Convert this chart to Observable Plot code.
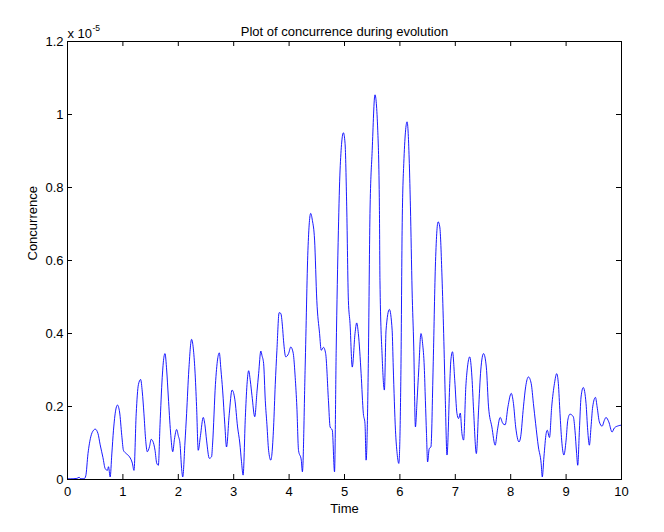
<!DOCTYPE html>
<html>
<head>
<meta charset="utf-8">
<script src="https://cdn.jsdelivr.net/npm/d3@7"></script>
<script src="https://cdn.jsdelivr.net/npm/@observablehq/plot@0.6"></script>
<style>
  html, body { margin: 0; padding: 0; background: #fff; }
  #chart { width: 664px; height: 532px; }
</style>
</head>
<body>
<div id="chart"></div>
<script>
const chartTitle = "Plot of concurrence during evolution";
const xLabel = "Time";
const yLabel = "Concurrence";
const yExponentBase = "x 10";
const yExponent = "-5";

const xTicks = [0, 1, 2, 3, 4, 5, 6, 7, 8, 9, 10];
const yTicks = [0, 0.2, 0.4, 0.6, 0.8, 1, 1.2];

// time values
const time = [
  0.00, 0.10, 0.17, 0.21, 0.24, 0.30, 0.33, 0.37, 0.42, 0.47, 0.50, 0.55, 0.59, 0.64, 0.68, 0.72, 0.74, 0.77,
  0.80, 0.83, 0.87, 0.90, 0.94, 0.98, 1.01, 1.06, 1.12, 1.17, 1.20, 1.24, 1.28, 1.32, 1.35, 1.38, 1.41, 1.44,
  1.48, 1.51, 1.54, 1.58, 1.61, 1.64, 1.67, 1.71, 1.74, 1.76, 1.79, 1.82, 1.86, 1.90, 1.93, 1.97, 2.00, 2.03,
  2.06, 2.08, 2.12, 2.15, 2.19, 2.24, 2.27, 2.30, 2.33, 2.36, 2.40, 2.45, 2.48, 2.51, 2.56, 2.60, 2.62, 2.67,
  2.71, 2.74, 2.77, 2.80, 2.84, 2.87, 2.92, 2.97, 3.02, 3.07, 3.11, 3.14, 3.17, 3.21, 3.24, 3.27, 3.30, 3.33,
  3.38, 3.42, 3.45, 3.49, 3.51, 3.54, 3.57, 3.60, 3.63, 3.67, 3.69, 3.72, 3.75, 3.78, 3.82, 3.85, 3.88, 3.90,
  3.94, 3.99, 4.03, 4.06, 4.08, 4.11, 4.14, 4.17, 4.22, 4.24, 4.29, 4.34, 4.39, 4.42, 4.46, 4.50, 4.55, 4.58,
  4.62, 4.66, 4.71, 4.74, 4.78, 4.82, 4.85, 4.89, 4.92, 4.98, 5.01, 5.04, 5.07, 5.10, 5.14, 5.19, 5.22, 5.25,
  5.30, 5.34, 5.37, 5.39, 5.43, 5.46, 5.50, 5.55, 5.60, 5.63, 5.64, 5.68, 5.72, 5.75, 5.81, 5.86, 5.88, 5.92,
  5.95, 5.98, 6.02, 6.04, 6.07, 6.13, 6.17, 6.19, 6.22, 6.25, 6.28, 6.31, 6.34, 6.38, 6.41, 6.44, 6.46, 6.48,
  6.50, 6.53, 6.56, 6.60, 6.64, 6.69, 6.72, 6.76, 6.79, 6.82, 6.85, 6.90, 6.92, 6.95, 6.99, 7.03, 7.06, 7.09,
  7.12, 7.15, 7.19, 7.22, 7.26, 7.30, 7.33, 7.38, 7.42, 7.46, 7.51, 7.56, 7.60, 7.66, 7.72, 7.76, 7.81, 7.86,
  7.90, 7.95, 8.01, 8.05, 8.09, 8.15, 8.18, 8.23, 8.27, 8.32, 8.37, 8.41, 8.45, 8.50, 8.55, 8.57, 8.60, 8.64,
  8.66, 8.70, 8.74, 8.79, 8.83, 8.86, 8.89, 8.92, 8.96, 9.00, 9.03, 9.07, 9.13, 9.16, 9.19, 9.21, 9.24, 9.27,
  9.31, 9.36, 9.39, 9.42, 9.45, 9.48, 9.53, 9.56, 9.60, 9.65, 9.69, 9.72, 9.77, 9.83, 9.87, 9.94, 10.00
];

// concurrence values, in units of 1e-5
const concurrence = [
  0.002, 0.002, 0.003, 0.006, 0.002, 0.002, 0.010, 0.071, 0.117, 0.135, 0.138, 0.126, 0.095, 0.060, 0.030, 0.025, 0.035, 0.007,
  0.070, 0.135, 0.190, 0.204, 0.185, 0.120, 0.080, 0.071, 0.062, 0.045, 0.025, 0.180, 0.260, 0.274, 0.240, 0.180, 0.110, 0.076,
  0.090, 0.110, 0.105, 0.080, 0.045, 0.039, 0.150, 0.280, 0.335, 0.345, 0.300, 0.226, 0.130, 0.076, 0.110, 0.137, 0.120, 0.099,
  0.030, 0.007, 0.100, 0.181, 0.300, 0.384, 0.360, 0.300, 0.200, 0.080, 0.120, 0.170, 0.150, 0.108, 0.058, 0.062, 0.100, 0.260,
  0.330, 0.347, 0.300, 0.245, 0.150, 0.089, 0.180, 0.245, 0.220, 0.144, 0.100, 0.050, 0.012, 0.170, 0.260, 0.298, 0.270, 0.230,
  0.172, 0.240, 0.290, 0.352, 0.340, 0.318, 0.217, 0.150, 0.080, 0.053, 0.070, 0.144, 0.260, 0.354, 0.457, 0.455, 0.420, 0.380,
  0.336, 0.345, 0.363, 0.355, 0.340, 0.280, 0.199, 0.080, 0.053, 0.021, 0.308, 0.628, 0.729, 0.710, 0.656, 0.491, 0.400, 0.354,
  0.362, 0.345, 0.217, 0.144, 0.135, 0.021, 0.354, 0.683, 0.848, 0.950, 0.921, 0.747, 0.491, 0.427, 0.308, 0.400, 0.429, 0.400,
  0.290, 0.181, 0.153, 0.053, 0.318, 0.729, 0.902, 1.054, 0.957, 0.747, 0.546, 0.336, 0.245, 0.409, 0.466, 0.409, 0.308, 0.135,
  0.071, 0.044, 0.318, 0.683, 0.866, 0.980, 0.866, 0.747, 0.519, 0.363, 0.144, 0.217, 0.300, 0.400, 0.372, 0.308, 0.217, 0.126,
  0.048, 0.085, 0.089, 0.308, 0.582, 0.706, 0.692, 0.555, 0.400, 0.217, 0.067, 0.263, 0.327, 0.350, 0.272, 0.181, 0.167, 0.182,
  0.126, 0.108, 0.254, 0.308, 0.336, 0.281, 0.190, 0.071, 0.190, 0.300, 0.345, 0.308, 0.199, 0.144, 0.094, 0.135, 0.170, 0.153,
  0.150, 0.199, 0.236, 0.208, 0.144, 0.103, 0.117, 0.199, 0.254, 0.281, 0.263, 0.208, 0.153, 0.089, 0.044, 0.007, 0.062, 0.126,
  0.135, 0.115, 0.199, 0.263, 0.290, 0.263, 0.181, 0.108, 0.067, 0.108, 0.162, 0.179, 0.172, 0.135, 0.071, 0.039, 0.135, 0.226,
  0.252, 0.208, 0.135, 0.094, 0.144, 0.199, 0.225, 0.199, 0.158, 0.146, 0.162, 0.170, 0.158, 0.130, 0.141, 0.147, 0.149
];

const data = time.map((t, i) => ({time: t, concurrence: concurrence[i]}));

const W = 664, H = 532;
const mL = 67, mR = 43, mT = 41, mB = 53;
const fw = W - mL - mR, fh = H - mT - mB;
const tick = 5;

const chart = Plot.plot({
  width: W,
  height: H,
  marginLeft: mL,
  marginRight: mR,
  marginTop: mT,
  marginBottom: mB,
  style: {fontFamily: "'Liberation Sans', Arial, Helvetica, sans-serif", fontSize: "13px", background: "white", color: "black"},
  x: {domain: [0, 10]},
  y: {domain: [0, 1.2]},
  marks: [
    Plot.line(data, {x: "time", y: "concurrence", stroke: "#0000ff", strokeWidth: 0.9, curve: "monotone-x"}),
    Plot.frame({stroke: "black", strokeWidth: 1}),
    Plot.tickX(xTicks, {x: d => d, insetTop: fh - tick, stroke: "black"}),
    Plot.tickX(xTicks, {x: d => d, insetBottom: fh - tick, stroke: "black"}),
    Plot.tickY(yTicks, {y: d => d, insetRight: fw - tick, stroke: "black"}),
    Plot.tickY(yTicks, {y: d => d, insetLeft: fw - tick, stroke: "black"}),
    Plot.axisX({ticks: xTicks, tickSize: 0, tickPadding: 7, tickFormat: d => String(d), label: null, fontSize: 13}),
    Plot.axisY({ticks: yTicks, tickSize: 0, tickPadding: 4, tickFormat: d => String(d), label: null, fontSize: 13}),
    Plot.text([chartTitle], {frameAnchor: "top", lineAnchor: "bottom", dy: -5.5, fontSize: 13, fill: "black"}),
    Plot.text([xLabel], {frameAnchor: "bottom", lineAnchor: "bottom", dy: 33, fontSize: 13, fill: "black"}),
    Plot.text([yLabel], {frameAnchor: "left", lineAnchor: "bottom", rotate: -90, dx: -30.5, fontSize: 13, fill: "black"}),
    Plot.text([yExponentBase], {frameAnchor: "top-left", textAnchor: "start", lineAnchor: "bottom", dy: -4, fontSize: 13, fill: "black"}),
    Plot.text([yExponent], {frameAnchor: "top-left", textAnchor: "start", lineAnchor: "bottom", dx: 25, dy: -11, fontSize: 8.5, fill: "black"})
  ]
});

document.getElementById("chart").appendChild(chart);
</script>
</body>
</html>
